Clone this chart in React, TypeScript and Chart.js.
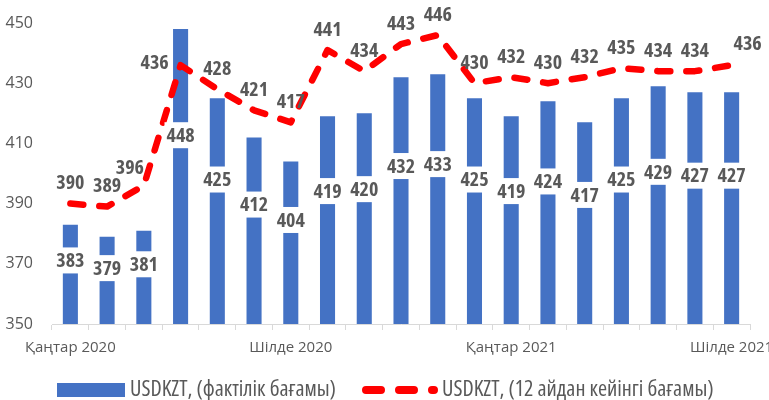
import React, { useEffect, useRef } from 'react';
import { Chart, registerables } from 'chart.js';

Chart.register(...registerables);

const categories = [
  'Қаңтар 2020', 'Ақпан 2020', 'Наурыз 2020', 'Сәуір 2020', 'Мамыр 2020', 'Маусым 2020',
  'Шілде 2020', 'Тамыз 2020', 'Қыркүйек 2020', 'Қазан 2020', 'Қараша 2020', 'Желтоқсан 2020',
  'Қаңтар 2021', 'Ақпан 2021', 'Наурыз 2021', 'Сәуір 2021', 'Мамыр 2021', 'Маусым 2021',
  'Шілде 2021',
];
const shownLabels = ['Қаңтар 2020', 'Шілде 2020', 'Қаңтар 2021', 'Шілде 2021'];
const actualRate = [383, 379, 381, 448, 425, 412, 404, 419, 420, 432, 433, 425, 419, 424, 417, 425, 429, 427, 427];
const forecastRate = [390, 389, 396, 436, 428, 421, 417, 441, 434, 443, 446, 430, 432, 430, 432, 435, 434, 434, 436];
const yMin = 350;
const yMax = 450;
const yStep = 20;
const seriesNames = ['USDKZT, (фактілік бағамы)', 'USDKZT, (12 айдан кейінгі бағамы)'];

const BLUE = '#4472c4';
const RED = '#ff0000';
const GREY = '#595959';
const FAMILY = '"Open Sans", "DejaVu Sans Condensed", sans-serif';

const labelPlugin = {
  id: 'valueLabels',
  afterDatasetsDraw(chart: any) {
    const ctx = chart.ctx;
    const y = chart.scales.y;
    ctx.save();
    ctx.font = `condensed bold 20px ${FAMILY}`;
    ctx.textAlign = 'center';
    ctx.textBaseline = 'middle';
    const barMeta = chart.getDatasetMeta(1);
    barMeta.data.forEach((el: any, i: number) => {
      const v = actualRate[i];
      const py = y.getPixelForValue(yMin + 0.64 * (v - yMin));
      const w = ctx.measureText(String(v)).width;
      ctx.fillStyle = '#ffffff';
      ctx.fillRect(el.x - w / 2 - 2, py - 13, w + 4, 26);
      ctx.fillStyle = GREY;
      ctx.fillText(String(v), el.x, py + 1);
    });
    const lineMeta = chart.getDatasetMeta(0);
    lineMeta.data.forEach((el: any, i: number) => {
      const v = forecastRate[i];
      let dx = 0;
      let dy = -21;
      if (i === 3) { dx = -26; dy = -3; }
      if (i === 18) { dx = 16; dy = -22; }
      if (i === 2) { dx = -14; dy = -18; }
      ctx.fillStyle = GREY;
      ctx.fillText(String(v), el.x + dx, el.y + dy + 1);
    });
    ctx.restore();
  },
  afterDraw(chart: any) {
    const ctx = chart.ctx;
    ctx.save();
    const cy = 390;
    ctx.fillStyle = BLUE;
    ctx.fillRect(57, cy - 7, 68, 14);
    ctx.font = `condensed 22px ${FAMILY}`;
    ctx.textBaseline = 'middle';
    ctx.textAlign = 'left';
    ctx.fillStyle = GREY;
    ctx.fillText(seriesNames[0], 130, cy);
    ctx.strokeStyle = RED;
    ctx.lineWidth = 8;
    ctx.lineCap = 'round';
    ctx.setLineDash([15, 18]);
    ctx.beginPath();
    ctx.moveTo(366, cy);
    ctx.lineTo(434, cy);
    ctx.stroke();
    ctx.setLineDash([]);
    ctx.fillText(seriesNames[1], 442, cy);
    ctx.restore();
  },
};

export default function App() {
  const ref = useRef<HTMLCanvasElement | null>(null);
  useEffect(() => {
    document.body.style.margin = '0';
    const xTickFont: any = { family: FAMILY, size: 15, style: 'condensed' };
    const yTickFont: any = { family: FAMILY, size: 16, style: 'condensed' };
    const chart = new Chart(ref.current as HTMLCanvasElement, {
      type: 'bar',
      data: {
        labels: categories,
        datasets: [
          {
            type: 'line',
            label: seriesNames[1],
            data: forecastRate,
            borderColor: RED,
            backgroundColor: RED,
            borderWidth: 6.5,
            borderDash: [13, 16],
            borderCapStyle: 'round',
            borderJoinStyle: 'round',
            pointRadius: 0,
            tension: 0,
            fill: false,
            order: 0,
          } as any,
          {
            type: 'bar',
            label: seriesNames[0],
            data: actualRate,
            backgroundColor: BLUE,
            barPercentage: 0.41,
            categoryPercentage: 1,
            order: 1,
          },
        ],
      },
      options: {
        animation: false,
        responsive: true,
        maintainAspectRatio: false,
        layout: { padding: { top: 23, right: 19, left: 0, bottom: 0 } },
        plugins: { legend: { display: false }, tooltip: { enabled: false } },
        scales: {
          x: {
            grid: {
              display: true,
              drawOnChartArea: false,
              drawTicks: true,
              tickLength: 6,
              color: '#d9d9d9',
              offset: true,
            },
            border: { display: true, color: '#d9d9d9', width: 1 },
            ticks: {
              autoSkip: false,
              maxRotation: 0,
              minRotation: 0,
              padding: 9,
              color: GREY,
              font: xTickFont,
              callback: (_v: any, idx: number) =>
                shownLabels.includes(categories[idx]) ? categories[idx] : '',
            },
            afterFit: (s: any) => {
              s.height = 76;
              s.paddingLeft = 0;
              s.paddingRight = 0;
            },
          },
          y: {
            min: yMin,
            max: yMax,
            grid: { display: false, drawTicks: false },
            border: { display: false },
            ticks: {
              stepSize: yStep,
              padding: 19,
              color: GREY,
              font: yTickFont,
            },
            afterFit: (s: any) => {
              s.width = 52;
              s.paddingTop = 0;
              s.paddingBottom = 0;
            },
          },
        },
      },
      plugins: [labelPlugin],
    });
    return () => chart.destroy();
  }, []);
  return (
    <div style={{ width: 769, height: 400, position: 'relative' }}>
      <canvas ref={ref} />
    </div>
  );
}
